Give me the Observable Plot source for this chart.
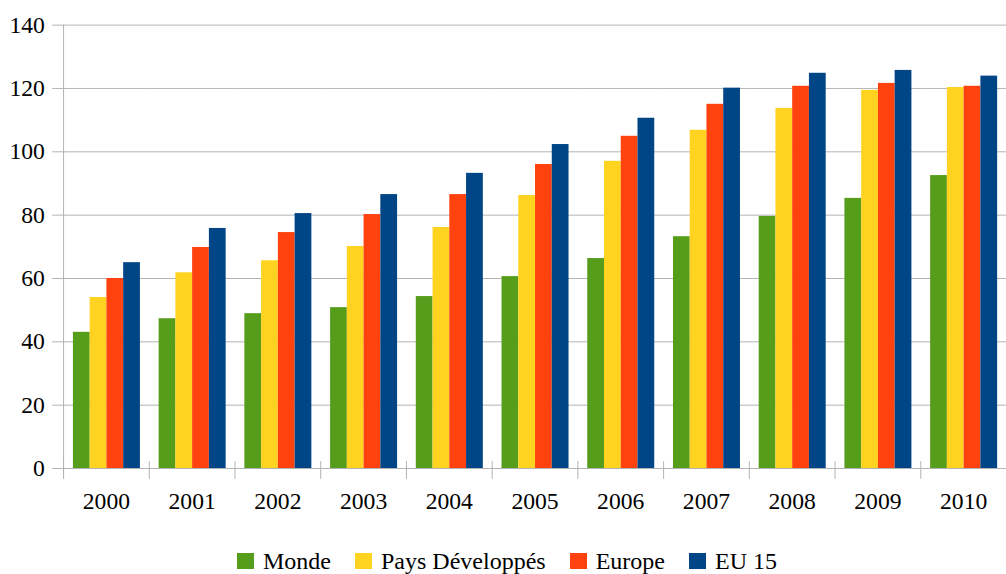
<!DOCTYPE html>
<html>
<head>
<meta charset="utf-8">
<script src="https://cdn.jsdelivr.net/npm/d3@7"></script>
<script src="https://cdn.jsdelivr.net/npm/@observablehq/plot@0.6"></script>
<style>
  html, body { margin: 0; padding: 0; background: #fff; overflow: hidden; }
  #wrap { position: relative; width: 1006px; height: 574px; overflow: hidden; font-family: "Liberation Serif", "Times New Roman", "DejaVu Serif", serif; }
  #legend { position: absolute; left: 0; top: 549px; width: 1006px; height: 24px; padding-left: 8px; box-sizing: border-box;
            display: flex; justify-content: center; align-items: center; font-size: 24px; color: #000; }
  .item { display: flex; align-items: center; margin: 0 12px; }
  .sw { width: 17px; height: 16px; margin-right: 9px; }
</style>
</head>
<body>
<div id="wrap"><div id="chart"></div><div id="legend"></div></div>
<script>
const years = ["2000","2001","2002","2003","2004","2005","2006","2007","2008","2009","2010"];
const series = ["Monde", "Pays Développés", "Europe", "EU 15"];
const colors = ["#579D1C", "#FFD320", "#FF420E", "#004586"];
const monde  = [43.0, 47.3, 48.9, 50.8, 54.3, 60.6, 66.3, 73.2, 79.6, 85.3, 92.5];
const pays   = [54.0, 61.8, 65.6, 70.1, 76.1, 86.2, 97.0, 106.8, 113.7, 119.4, 120.3];
const europe = [60.0, 69.8, 74.5, 80.2, 86.5, 96.0, 104.9, 115.0, 120.7, 121.6, 120.7];
const eu15   = [65.0, 75.8, 80.5, 86.5, 93.2, 102.3, 110.6, 120.1, 124.8, 125.7, 123.9];
const yTicks = [0, 20, 40, 60, 80, 100, 120, 140];

const valuesBySeries = [monde, pays, europe, eu15];
const data = [];
years.forEach((y, i) => series.forEach((s, j) => data.push({year: y, series: s, value: valuesBySeries[j][i]})));

const grid = "#b3b3b3";
const serif = "'Liberation Serif', 'Times New Roman', 'DejaVu Serif', serif";
const plot = Plot.plot({
  width: 1021,
  height: 537,
  marginLeft: 64,
  marginRight: 0,
  marginTop: 25,
  marginBottom: 62,
  style: {fontFamily: serif, fontSize: "24px", background: "#fff", overflow: "visible"},
  fx: {domain: years, padding: 0, label: null},
  x: {domain: series, paddingInner: 0, paddingOuter: 0.486, axis: null},
  y: {domain: [0, 140], ticks: yTicks, label: null},
  color: {domain: series, range: colors},
  marks: [
    Plot.gridY(yTicks, {stroke: grid, strokeOpacity: 1, strokeWidth: 1}),
    Plot.barY(data, {fx: "year", x: "series", y: "value", fill: "series", inset: 0}),
    Plot.ruleY([0], {stroke: grid, strokeWidth: 1}),
    Plot.frame({anchor: "left", stroke: grid, strokeWidth: 1, insetTop: 443, insetBottom: -10}),
    Plot.frame({anchor: "left", stroke: grid, strokeWidth: 1, insetBottom: -10, facet: "super"}),
    Plot.axisY(yTicks, {tickSize: 11, tickPadding: 8, stroke: grid, fill: "#000", fontSize: 24, label: null}),
    Plot.axisFx({anchor: "bottom", tickSize: 0, tickPadding: 24, fill: "#000", fontSize: 24, label: null})
  ]
});
document.getElementById("chart").appendChild(plot);

const legend = document.getElementById("legend");
series.forEach((s, i) => {
  const it = document.createElement("div");
  it.className = "item";
  const sw = document.createElement("div");
  sw.className = "sw";
  sw.style.background = colors[i];
  const t = document.createElement("span");
  t.textContent = s;
  it.appendChild(sw); it.appendChild(t);
  legend.appendChild(it);
});
</script>
</body>
</html>
